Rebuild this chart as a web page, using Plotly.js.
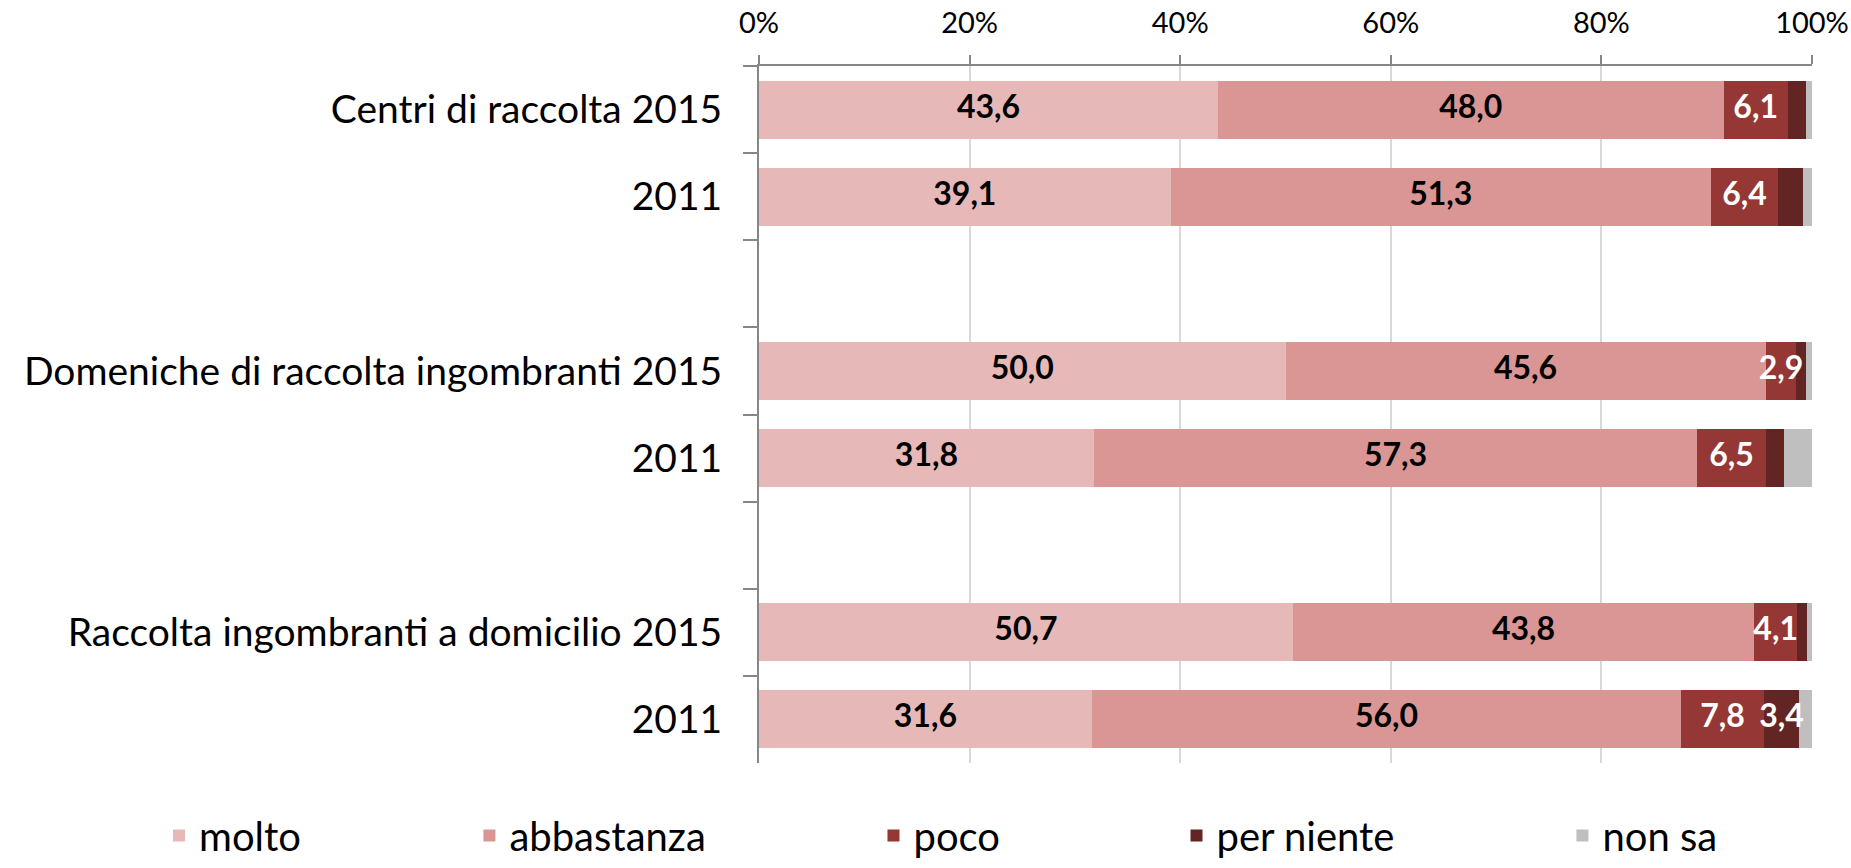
<!DOCTYPE html>
<html>
<head>
<meta charset="utf-8">
<script src="https://cdn.plot.ly/plotly-3.0.1.min.js"></script>
<style>
  html, body { margin: 0; padding: 0; background: #fff; }
  #chart { width: 1851px; height: 868px; }
</style>
</head>
<body>
<div id="chart"></div>
<script>
// Category slots (blank slots separate the groups; zero-width spaces keep keys unique)
const categories = [
  "Centri di raccolta 2015",
  "2011",
  " ",
  "Domeniche di raccolta ingombranti 2015",
  "2011\u200B",
  "  ",
  "Raccolta ingombranti a domicilio 2015",
  "2011\u200B\u200B"
];

const seriesNames = ["molto", "abbastanza", "poco", "per niente", "non sa"];

const molto      = [43.6, 39.1, null, 50.0, 31.8, null, 50.7, 31.6];
const abbastanza = [48.0, 51.3, null, 45.6, 57.3, null, 43.8, 56.0];
const poco       = [6.1,  6.4,  null, 2.9,  6.5,  null, 4.1,  7.8];
const perNiente  = [1.7,  2.3,  null, 0.9,  1.7,  null, 0.9,  3.4];
const nonSa      = [0.6,  0.9,  null, 0.6,  2.7,  null, 0.5,  1.2];

// which values carry a data label in the original, per series
const labelled = [
  [true, true, false, true, true, false, true, true],
  [true, true, false, true, true, false, true, true],
  [true, true, false, true, true, false, true, true],
  [false, false, false, false, false, false, false, true],
  [false, false, false, false, false, false, false, false]
];

const colors = ["#E6B9B8", "#D99694", "#953735", "#632523", "#BFBFBF"];
const labelColors = ["#000000", "#000000", "#FFFFFF", "#FFFFFF", "#FFFFFF"];

const FONT = "Lato, 'Open Sans', 'DejaVu Sans', sans-serif";

const values = [molto, abbastanza, poco, perNiente, nonSa];
const legendIds = ["legend", "legend2", "legend3", "legend4", "legend5"];

const barTraces = values.map((vals, i) => ({
  type: "bar",
  orientation: "h",
  name: seriesNames[i],
  legend: legendIds[i],
  y: categories,
  x: vals,
  marker: { color: colors[i], line: { width: 0 } },
  hoverinfo: "x+name"
}));

// data labels drawn above all bars, centred on each segment
const labelTraces = [];
values.forEach((vals, i) => {
  const xs = [], ys = [], vs = [];
  vals.forEach((v, j) => {
    if (v === null || !labelled[i][j]) return;
    let base = 0;
    for (let k = 0; k < i; k++) base += values[k][j] || 0;
    xs.push(base + v / 2);
    ys.push(categories[j]);
    vs.push(v);
  });
  if (!xs.length) return;
  labelTraces.push({
    type: "scatter",
    mode: "text",
    x: xs,
    y: ys,
    customdata: vs,
    texttemplate: "%{customdata:.1f}",
    textposition: "middle center",
    textfont: { family: FONT, size: 32, color: labelColors[i], weight: 700 },
    showlegend: false,
    hoverinfo: "skip",
    cliponaxis: false
  });
});

// legend positions (container fraction) of each entry
const legendX = [0.0859, 0.2536, 0.4719, 0.6356, 0.8441];

const layout = {
  width: 1851,
  height: 868,
  barmode: "stack",
  bargap: 0.333,
  separators: ",.",
  paper_bgcolor: "#ffffff",
  plot_bgcolor: "#ffffff",
  margin: { l: 759, r: 39, t: 66, b: 105, pad: 0 },
  font: { family: FONT, color: "#000000" },
  showlegend: true,
  xaxis: {
    side: "top",
    range: [0, 100],
    tickmode: "linear",
    tick0: 0,
    dtick: 20,
    ticksuffix: "%",
    showgrid: true,
    gridcolor: "#D9D9D9",
    gridwidth: 2,
    zeroline: false,
    showline: true,
    linecolor: "#868686",
    linewidth: 2,
    ticks: "outside",
    ticklen: 9,
    tickwidth: 2,
    tickcolor: "#868686",
    ticklabelstandoff: 10,
    tickfont: { family: FONT, size: 29, color: "#000000" },
    fixedrange: true
  },
  yaxis: {
    type: "category",
    categoryorder: "array",
    categoryarray: categories,
    autorange: "reversed",
    tickson: "boundaries",
    showgrid: false,
    zeroline: false,
    showline: true,
    linecolor: "#868686",
    linewidth: 2,
    ticks: "outside",
    ticklen: 14,
    tickwidth: 2,
    tickcolor: "#868686",
    ticklabelstandoff: 27,
    tickfont: { family: FONT, size: 39, color: "#000000" },
    fixedrange: true
  }
};

legendIds.forEach((id, i) => {
  layout[id] = {
    orientation: "h",
    xref: "container",
    yref: "container",
    x: legendX[i],
    xanchor: "left",
    y: 0,
    yanchor: "bottom",
    font: { family: FONT, size: 40, color: "#000000" },
    bgcolor: "rgba(0,0,0,0)",
    borderwidth: 0
  };
});

Plotly.newPlot("chart", barTraces.concat(labelTraces), layout, { displayModeBar: false, staticPlot: true });
</script>
</body>
</html>
